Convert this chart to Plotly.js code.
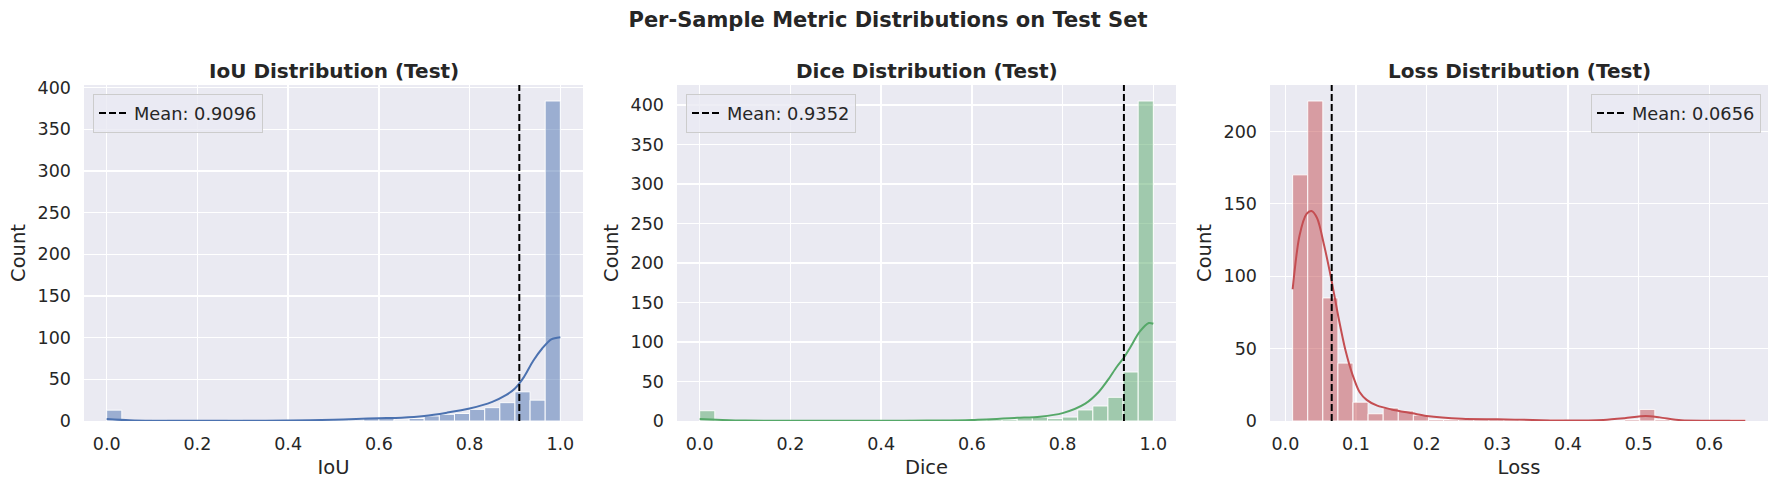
<!DOCTYPE html>
<html>
<head>
<meta charset="utf-8">
<script src="https://cdn.plot.ly/plotly-3.0.1.min.js"></script>
<style>
    html, body { margin: 0; padding: 0; background: #ffffff; }
    #chart { width: 1776px; height: 488px; }
</style>
</head>
<body>
<div id="chart"></div>
<script>
// histogram counts, 30 equal bins per metric
const iouCounts  = [13, 0, 0, 1, 0, 0, 0, 0, 1, 0, 0, 0, 1, 0, 0, 1, 1, 3, 3, 1, 3, 6, 8, 9, 14, 16, 22, 35, 25, 384];
const diceCounts = [13, 0, 0, 0, 0, 0, 0, 0, 0, 0, 0, 0, 0, 0, 1, 1, 0, 2, 1, 2, 2, 4, 5, 3, 5, 14, 19, 30, 62, 405];
const lossCounts = [170, 221, 85, 40, 13, 5, 9, 7, 4, 1, 1, 1, 1, 1, 1, 0, 0, 1, 0, 0, 0, 0, 1, 8, 1, 0, 0, 0, 0, 1];

// data min / max of each metric (bin range)
const iouRange  = [0.0, 1.0];
const diceRange = [0.0, 1.0];
const lossRange = [0.0103, 0.651];

// means
const iouMean  = 0.9096;
const diceMean = 0.9352;
const lossMean = 0.0656;

// kde curves (scaled to counts)
const iouKdeX  = [0.0, 0.05, 0.1, 0.2, 0.3, 0.4, 0.5, 0.55, 0.6, 0.65, 0.7, 0.75, 0.8, 0.85, 0.88, 0.9, 0.92, 0.94, 0.96, 0.98, 1.0];
const iouKdeY  = [2.5, 1.0, 0.4, 0.3, 0.3, 0.5, 1.5, 2.5, 3.3, 4.0, 6.0, 10, 15, 23, 31, 39, 53, 72, 87, 98, 100.5];
const diceKdeX = [0.0, 0.05, 0.1, 0.2, 0.3, 0.4, 0.5, 0.6, 0.7, 0.75, 0.8, 0.85, 0.88, 0.9, 0.92, 0.935, 0.95, 0.97, 0.99, 1.0];
const diceKdeY = [2.5, 1.3, 0.5, 0.3, 0.3, 0.3, 0.5, 1.3, 4.0, 5.5, 10, 22, 37, 52, 69, 80, 94, 113, 124, 123];
const lossKdeX = [0.0103, 0.02, 0.03, 0.037, 0.045, 0.055, 0.065, 0.075, 0.085, 0.095, 0.105, 0.115, 0.13, 0.15, 0.18, 0.2, 0.25, 0.3, 0.35, 0.4, 0.45, 0.48, 0.51, 0.53, 0.56, 0.6, 0.651];
const lossKdeY = [91, 128, 143, 145, 140, 121, 98, 72, 49, 32, 20, 14.6, 10.6, 8, 5.3, 3.5, 1.6, 1.2, 0.7, 0.3, 0.7, 1.9, 3.5, 2.5, 0.5, 0.2, 0.1];

const panels = [
    {name: "IoU", counts: iouCounts, range: iouRange, mean: iouMean, kx: iouKdeX, ky: iouKdeY,
     color: "76,114,176", domain: [84, 583], legendSide: "left"},
    {name: "Dice", counts: diceCounts, range: diceRange, mean: diceMean, kx: diceKdeX, ky: diceKdeY,
     color: "85,168,104", domain: [677, 1176], legendSide: "left"},
    {name: "Loss", counts: lossCounts, range: lossRange, mean: lossMean, kx: lossKdeX, ky: lossKdeY,
     color: "196,78,82", domain: [1270, 1768], legendSide: "right"}
];

const W = 1776, H = 488;
const plotTop = 85, plotBottom = 421;
const ink = "#262626";

let data = [];
let layout = {
    width: W,
    height: H,
    margin: {l: 0, r: 0, t: 0, b: 0},
    paper_bgcolor: "#ffffff",
    plot_bgcolor: "#EAEAF2",
    font: {family: "DejaVu Sans", color: ink, size: 17.5},
    title: {
        text: "<b>Per-Sample Metric Distributions on Test Set</b>",
        x: 0.5, xanchor: "center",
        y: 1 - 20 / H, yanchor: "middle",
        font: {size: 21, color: ink}
    },
    annotations: [],
    showlegend: true
};

for (let p = 0; p < panels.length; p++) {
    let pan = panels[p];
    let suffix = p === 0 ? "" : String(p + 1);
    let xa = "x" + suffix, ya = "y" + suffix;
    let legendId = "legend" + suffix;

    // bins
    let n = pan.counts.length;
    let bw = (pan.range[1] - pan.range[0]) / n;
    let centers = [];
    for (let i = 0; i < n; i++) {
        centers.push(pan.range[0] + (i + 0.5) * bw);
    }
    let yTop = Math.max(...pan.counts) * 1.05;
    let pad = (pan.range[1] - pan.range[0]) * 0.05;

    // histogram bars
    data.push({
        type: "bar",
        x: centers,
        y: pan.counts,
        width: bw,
        xaxis: xa, yaxis: ya,
        marker: {
            color: "rgba(" + pan.color + ",0.5)",
            line: {color: "rgba(255,255,255,0.9)", width: 1}
        },
        showlegend: false,
        hoverinfo: "skip"
    });

    // kde curve
    data.push({
        type: "scatter",
        mode: "lines",
        x: pan.kx,
        y: pan.ky,
        xaxis: xa, yaxis: ya,
        line: {color: "rgb(" + pan.color + ")", width: 2, shape: "spline", smoothing: 0.8},
        showlegend: false,
        hoverinfo: "skip"
    });

    // mean line
    data.push({
        type: "scatter",
        mode: "lines",
        x: [pan.mean, pan.mean],
        y: [0, yTop],
        xaxis: xa, yaxis: ya,
        name: "Mean: " + pan.mean.toFixed(4),
        legend: legendId,
        line: {color: "#000000", width: 2, dash: "7px,3px"},
        hoverinfo: "skip"
    });

    // axes
    let xDom = [pan.domain[0] / W, pan.domain[1] / W];
    let yDom = [1 - plotBottom / H, 1 - plotTop / H];
    layout["xaxis" + suffix] = {
        domain: xDom,
        anchor: ya,
        range: [pan.range[0] - pad, pan.range[1] + pad],
        dtick: 0.1 * (p === 2 ? 1 : 2),
        tick0: 0,
        tickformat: ".1f",
        showgrid: true, gridcolor: "#ffffff", gridwidth: 1.3,
        zeroline: false, showline: false,
        ticks: "", ticklabelstandoff: 10,
        tickfont: {size: 17.5, color: ink},
        title: {text: pan.name, standoff: 7, font: {size: 19.5, color: ink}},
        automargin: false
    };
    layout["yaxis" + suffix] = {
        domain: yDom,
        anchor: xa,
        range: [0, yTop],
        dtick: 50,
        showgrid: true, gridcolor: "#ffffff", gridwidth: 1.3,
        zeroline: false, showline: false,
        ticks: "", ticklabelstandoff: 12,
        tickfont: {size: 17.5, color: ink},
        title: {text: "Count", standoff: 6, font: {size: 19.5, color: ink}},
        automargin: false
    };

    // legend box in the corner of the panel
    let left = pan.legendSide === "left";
    layout[legendId] = {
        x: left ? (pan.domain[0] + 9) / W : (pan.domain[1] - 7) / W,
        xanchor: left ? "left" : "right",
        y: 1 - (plotTop + 9) / H,
        yanchor: "top",
        xref: "paper", yref: "paper",
        bgcolor: "rgba(234,234,242,0.8)",
        bordercolor: "#cccccc",
        borderwidth: 1,
        font: {size: 17.8, color: ink}
    };

    // panel title
    layout.annotations.push({
        text: "<b>" + pan.name + " Distribution (Test)</b>",
        x: (xDom[0] + xDom[1]) / 2,
        y: 1 - 71 / H,
        xref: "paper", yref: "paper",
        xanchor: "center", yanchor: "middle",
        showarrow: false,
        font: {size: 20, color: ink}
    });
}

let config = {
    displayModeBar: false,
    staticPlot: true
};

Plotly.newPlot(document.getElementById("chart"), data, layout, config);
</script>
</body>
</html>
